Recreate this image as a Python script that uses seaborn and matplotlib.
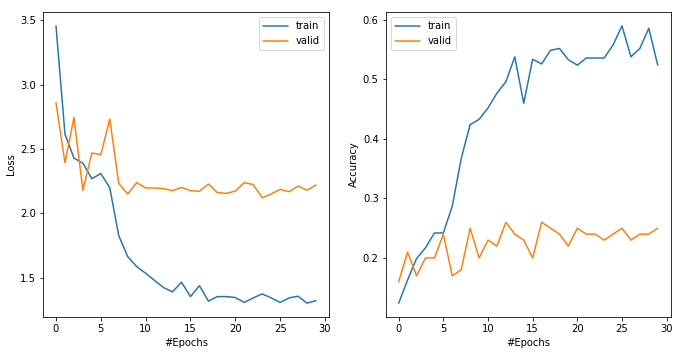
import numpy as np
import pandas as pd
import matplotlib
matplotlib.use("Agg")
import matplotlib.pyplot as plt
import seaborn as sns

epochs = list(range(30))
train_loss = [3.456, 2.616, 2.43, 2.39, 2.27, 2.31, 2.20, 1.828, 1.665, 1.588, 1.536, 1.48, 1.425, 1.392,
              1.467, 1.355, 1.44, 1.32, 1.355, 1.355, 1.348, 1.31, 1.345, 1.376, 1.345, 1.31, 1.345, 1.358,
              1.304, 1.324]
valid_loss = [2.86, 2.394, 2.745, 2.18, 2.47, 2.456, 2.733, 2.234, 2.151, 2.24, 2.198, 2.198, 2.193, 2.177,
              2.203, 2.177, 2.172, 2.229, 2.162, 2.156, 2.174, 2.24, 2.224, 2.123, 2.151, 2.187, 2.169, 2.213,
              2.18, 2.221]
train_acc = [0.124, 0.163, 0.199, 0.217, 0.242, 0.242, 0.287, 0.367, 0.424, 0.433, 0.452, 0.477, 0.496, 0.538,
             0.46, 0.534, 0.526, 0.549, 0.552, 0.533, 0.524, 0.536, 0.536, 0.536, 0.558, 0.59, 0.538, 0.552,
             0.586, 0.524]
valid_acc = [0.16, 0.21, 0.17, 0.20, 0.20, 0.24, 0.17, 0.18, 0.25, 0.20, 0.23, 0.22, 0.26, 0.24, 0.23, 0.20,
             0.26, 0.25, 0.24, 0.22, 0.25, 0.24, 0.24, 0.23, 0.24, 0.25, 0.23, 0.24, 0.24, 0.25]
series_names = ["train", "valid"]

sns.set_style("ticks")
plt.rcParams.update({"font.family": ["DejaVu Sans"], "font.size": 10,
                     "axes.edgecolor": "black", "axes.linewidth": 0.8,
                     "xtick.color": "black", "ytick.color": "black",
                     "axes.labelcolor": "black", "text.color": "black"})

loss_df = pd.DataFrame({"epoch": epochs * 2, "value": train_loss + valid_loss,
                        "set": [series_names[0]] * 30 + [series_names[1]] * 30})
acc_df = pd.DataFrame({"epoch": epochs * 2, "value": train_acc + valid_acc,
                       "set": [series_names[0]] * 30 + [series_names[1]] * 30})

fig = plt.figure(figsize=(690 / 72, 364 / 72), dpi=72)
ax1 = fig.add_axes([0.0623, 0.129, 0.4145, 0.838])
ax2 = fig.add_axes([0.559, 0.129, 0.413, 0.838])

pal = ["#1f77b4", "#ff7f0e"]
sns.lineplot(data=loss_df, x="epoch", y="value", hue="set", palette=pal, ax=ax1, linewidth=1.5)
sns.lineplot(data=acc_df, x="epoch", y="value", hue="set", palette=pal, ax=ax2, linewidth=1.5)

ax1.set_xlabel("#Epochs")
ax1.set_ylabel("Loss")
ax2.set_xlabel("#Epochs")
ax2.set_ylabel("Accuracy")
ax1.set_xticks([0, 5, 10, 15, 20, 25, 30])
ax2.set_xticks([0, 5, 10, 15, 20, 25, 30])
ax1.legend(loc="upper right", title=None, handlelength=2.5)
ax2.legend(loc="upper left", title=None, handlelength=2.5)

fig.savefig("out.png", dpi=72)
